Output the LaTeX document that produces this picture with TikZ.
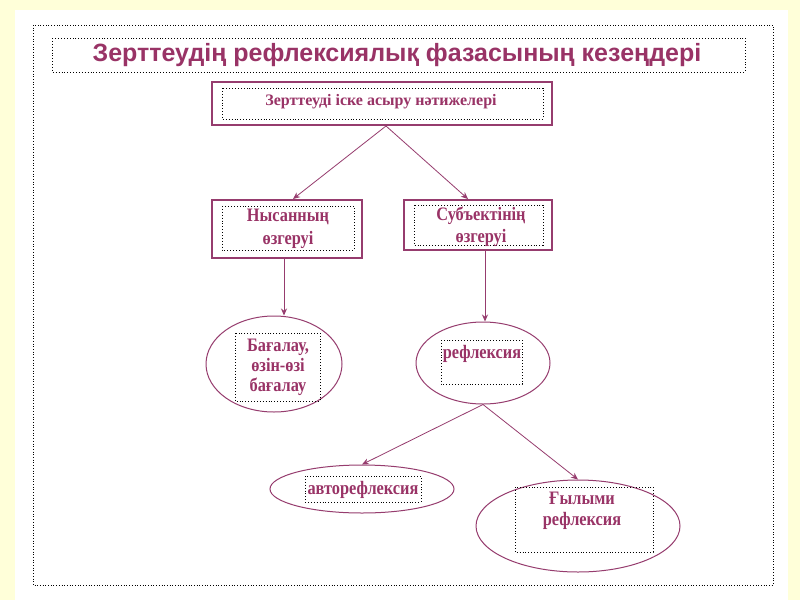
\documentclass[tikz,border=0pt]{standalone}
\usepackage{fontspec}
\setmainfont{Liberation Serif}
\newfontfamily\titlefont{Liberation Sans}
\usetikzlibrary{arrows.meta,shapes.geometric}
\definecolor{bgyellow}{RGB}{255,255,217}
\definecolor{maroon}{RGB}{153,51,102}
\definecolor{edgecol}{RGB}{150,60,110}
\tikzset{
  solidbox/.style={draw=edgecol,line width=1.1pt,fill=white},
  dotbox/.style={draw=black,dotted,line width=0.9pt},
  lbl/.style={text=maroon,font=\bfseries\fontsize{19}{21}\selectfont,align=center,inner sep=0pt,xscale=0.86,transform shape},
  ell/.style={draw=edgecol,line width=1pt,ellipse},
  conn/.style={draw=edgecol,line width=0.8pt,-{Stealth[length=7pt,width=6pt]}}
}
\begin{document}
\begin{tikzpicture}[x=1pt,y=-1pt]
\useasboundingbox (0,0) rectangle (800,600);
\fill[bgyellow] (0,0) rectangle (800,600);
\fill[white] (15,10) rectangle (788,600);
% outer frame
\draw[dotbox,line width=0.7pt] (33,25) rectangle (773,585);
% title
\draw[dotbox] (52,38) rectangle (745,72);
\node[text=maroon,font=\titlefont\bfseries\fontsize{25}{28}\selectfont,inner sep=0pt] (title) at (397,55) {Зерттеудің рефлексиялық фазасының кезеңдері};
% top box
\draw[solidbox] (212,82) rectangle (552,125);
\draw[dotbox] (222,88) rectangle (543,119);
\node[text=maroon,inner sep=0pt,font=\bfseries\fontsize{16}{18}\selectfont] (top) at (381,102) {Зерттеуді іске асыру нәтижелері};
\coordinate (topS) at (386,126);
% object box
\draw[solidbox] (212,200) rectangle (362,258);
\draw[dotbox] (222,206) rectangle (354,250);
\node[lbl,font=\bfseries\fontsize{19}{23}\selectfont] (obj) at (288,229) {Нысанның\\өзгеруі};
\coordinate (objN) at (293,199);
\coordinate (objS) at (284,258);
% subject box
\draw[solidbox] (404,200) rectangle (552,250);
\draw[dotbox] (414,205) rectangle (543,245);
\node[lbl,font=\bfseries\fontsize{19}{22}\selectfont] (subj) at (481,227) {Субъектінің\\өзгеруі};
\coordinate (subjN) at (468,199);
\coordinate (subjS) at (485,250);
% ellipse 1
\node[ell,minimum width=136pt,minimum height=96pt] (e1) at (274,364) {};
\draw[dotbox] (235,333) rectangle (320,401);
\node[lbl,font=\bfseries\fontsize{19}{20}\selectfont] (e1t) at (278,367) {Бағалау,\\өзін-өзі\\бағалау};
% ellipse 2
\node[ell,minimum width=134pt,minimum height=82pt] (e2) at (483,363) {};
\draw[dotbox] (441,340) rectangle (522,384);
\node[lbl] (e2t) at (482,354) {рефлексия};
% ellipse 3
\node[ell,minimum width=184pt,minimum height=48pt] (e3) at (362,489) {};
\draw[dotbox] (305,476) rectangle (421,502);
\node[lbl] (e3t) at (363,490) {авторефлексия};
% ellipse 4
\node[ell,minimum width=204pt,minimum height=92pt] (e4) at (578,526) {};
\draw[dotbox] (515,487) rectangle (653,552);
\node[lbl,font=\bfseries\fontsize{19}{21}\selectfont] (e4t) at (582,511) {Ғылыми\\рефлексия};
% connectors
\draw[conn] (topS) -- (objN);
\draw[conn] (topS) -- (subjN);
\draw[conn] (objS) -- (objS |- e1.north);
\draw[conn] (subjS) -- (subjS |- e2.north);
\draw[conn] (e2.south) -- (e3.north);
\draw[conn] (e2.south) -- (e4.north);
\end{tikzpicture}
\end{document}
